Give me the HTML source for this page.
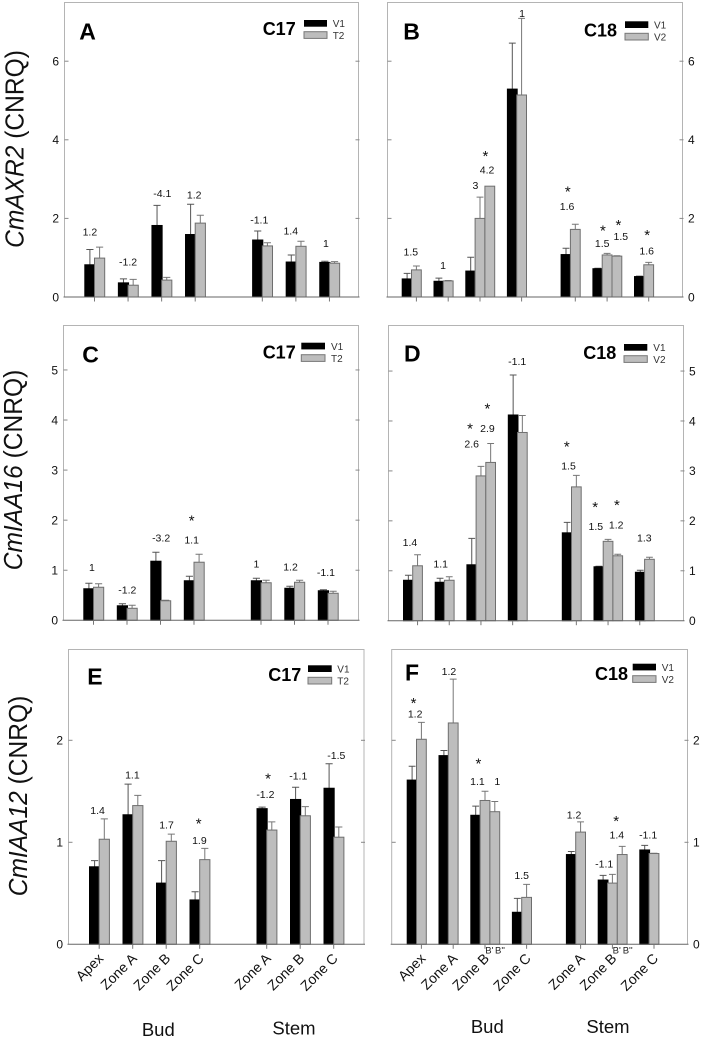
<!DOCTYPE html>
<html>
<head>
<meta charset="utf-8">
<title>Auxin gene expression bar charts</title>
<style>
html,body{margin:0;padding:0;background:#fff;}
svg{display:block;font-family:"Liberation Sans",Arial,sans-serif;}
</style>
</head>
<body>
<svg id="figure" width="702" height="1039" viewBox="0 0 702 1039" xmlns="http://www.w3.org/2000/svg">
<rect width="702" height="1039" fill="#fff"/>

<text transform="translate(23.5,149) rotate(-90) scale(0.945,1)" text-anchor="middle" font-size="26" fill="#111"><tspan font-style="italic">CmAXR2</tspan> (CNRQ)</text>
<text transform="translate(22,470) rotate(-90) scale(0.945,1)" text-anchor="middle" font-size="26" fill="#111"><tspan font-style="italic">CmIAA16</tspan> (CNRQ)</text>
<text transform="translate(27,796) rotate(-90) scale(0.945,1)" text-anchor="middle" font-size="26" fill="#111"><tspan font-style="italic">CmIAA12</tspan> (CNRQ)</text>

<g id="panels"></g>

<g font-weight="bold" fill="#000">
<text x="79.3" y="39.3" font-size="23">A</text>
<text x="403.3" y="39.3" font-size="23">B</text>
<text x="82.3" y="362.7" font-size="23">C</text>
<text x="404" y="361.7" font-size="23">D</text>
<text x="87.3" y="684.3" font-size="23">E</text>
<text x="405" y="680.7" font-size="23">F</text>
</g>

<g>
<text x="262.7" y="35" font-size="18" font-weight="bold">C17</text>
<rect x="304" y="20" width="23" height="6.7" fill="#000"/>
<rect x="304" y="31.7" width="23" height="6.7" fill="#bdbdbd" stroke="#777"/>
<text x="332.7" y="27" font-size="10" fill="#333">V1</text>
<text x="332.7" y="39" font-size="10" fill="#333">T2</text>
</g>
<g>
<text x="584" y="36.7" font-size="18" font-weight="bold">C18</text>
<rect x="625" y="21.3" width="23.3" height="6.7" fill="#000"/>
<rect x="625" y="33.3" width="23.3" height="6.7" fill="#bdbdbd" stroke="#777"/>
<text x="654" y="28.4" font-size="10" fill="#333">V1</text>
<text x="654" y="40.4" font-size="10" fill="#333">V2</text>
</g>
<g>
<text x="262.7" y="358.3" font-size="18" font-weight="bold">C17</text>
<rect x="301.3" y="342.7" width="23.7" height="6.7" fill="#000"/>
<rect x="301.3" y="354.7" width="23.7" height="6.7" fill="#bdbdbd" stroke="#777"/>
<text x="331" y="350" font-size="10" fill="#333">V1</text>
<text x="331" y="362" font-size="10" fill="#333">T2</text>
</g>
<g>
<text x="583.3" y="359" font-size="18" font-weight="bold">C18</text>
<rect x="624" y="344" width="23.3" height="6.7" fill="#000"/>
<rect x="624" y="355.7" width="23.3" height="6.7" fill="#bdbdbd" stroke="#777"/>
<text x="653.3" y="351" font-size="10" fill="#333">V1</text>
<text x="653.3" y="363" font-size="10" fill="#333">V2</text>
</g>
<g>
<text x="268.3" y="681" font-size="18" font-weight="bold">C17</text>
<rect x="308" y="665.3" width="23.7" height="6.7" fill="#000"/>
<rect x="308" y="677.3" width="23.7" height="6.7" fill="#bdbdbd" stroke="#777"/>
<text x="337.3" y="672.5" font-size="10" fill="#333">V1</text>
<text x="337.3" y="684.5" font-size="10" fill="#333">T2</text>
</g>
<g>
<text x="595" y="680" font-size="18" font-weight="bold">C18</text>
<rect x="632.7" y="663.7" width="23.3" height="6.7" fill="#000"/>
<rect x="632.7" y="675.7" width="23.3" height="6.7" fill="#bdbdbd" stroke="#777"/>
<text x="661.7" y="671" font-size="10" fill="#333">V1</text>
<text x="661.7" y="683" font-size="10" fill="#333">V2</text>
</g>

<g font-size="9.5" fill="#222" text-anchor="middle">
<text x="489.3" y="953.5">B'</text>
<text x="500" y="953.5">B''</text>
<text x="616.7" y="953.5">B'</text>
<text x="627.7" y="953.5">B''</text>
</g>

<g font-size="18.5" fill="#111" text-anchor="middle">
<text x="158.3" y="1036">Bud</text>
<text x="294" y="1034.5">Stem</text>
<text x="487.3" y="1033">Bud</text>
<text x="608" y="1033">Stem</text>
</g>
</svg>

<script>
// Shared categories: index 0-3 belong to Bud, 4-6 belong to Stem
const categories = ['Apex', 'Zone A', 'Zone B', 'Zone C', 'Zone A', 'Zone B', 'Zone C'];

// Panel A, CmAXR2, C17
const aTicks = [0, 2, 4, 6];
const aV1 = [0.82, 0.36, 1.82, 1.59, 1.45, 0.89, 0.88];
const aV1Err = [0.39, 0.10, 0.51, 0.77, 0.23, 0.18, 0.03];
const aV2 = [0.99, 0.30, 0.43, 1.88, 1.30, 1.29, 0.86];
const aV2Err = [0.28, 0.15, 0.07, 0.20, 0.08, 0.13, 0.04];
const aFold = ['1.2', '-1.2', '-4.1', '1.2', '-1.1', '1.4', '1'];
const aFoldCat = [0, 1, 2, 3, 4, 5, 6];
const aFoldLevel = [1.655, 0.89, 2.64, 2.60, 1.96, 1.68, 1.36];
const aFoldShift = [-0.45, 0, 0.06, -0.1, -0.3, -0.5, -0.35];
const aStarCat = [];
const aStarLevel = [];
const aStarShift = [];

// Panel B, CmAXR2, C18
const bTicks = [0, 2, 4, 6];
const bV1 = [0.46, 0.40, 0.66, 5.29, 1.08, 0.72, 0.52];
const bV1Err = [0.14, 0.08, 0.35, 1.17, 0.16, 0.01, 0.01];
const bV2 = [0.69, 0.41, 2.00, 5.14, 1.72, 1.07, 0.82];
const bV2Err = [0.10, 0.01, 0.54, 1.95, 0.13, 0.04, 0.06];
const bV3 = [null, null, 2.82, null, null, 1.04, null];
const bV3Err = [null, null, 0, null, null, 0.01, null];
const bFold = ['1.5', '1', '3', '4.2', '1', '1.6', '1.5', '1.5', '1.6'];
const bFoldCat = [0, 1, 2, 2, 3, 4, 5, 5, 6];
const bFoldLevel = [1.146, 0.806, 2.835, 3.24, 7.22, 2.31, 1.367, 1.545, 1.17];
const bFoldShift = [-0.07, -0.03, 0.03, 1.22, 0.54, -0.34, 0, 1.9, 0.3];
const bStarCat = [2, 4, 5, 5, 6];
const bStarLevel = [3.68, 2.77, 1.78, 1.927, 1.664];
const bStarShift = [1.05, -0.27, 0.07, 1.66, 0.34];

// Panel C, CmIAA16, C17
const cTicks = [0, 1, 2, 3, 4, 5];
const cV1 = [0.63, 0.29, 1.18, 0.79, 0.79, 0.64, 0.59];
const cV1Err = [0.11, 0.04, 0.18, 0.09, 0.05, 0.04, 0.02];
const cV2 = [0.66, 0.24, 0.39, 1.16, 0.75, 0.76, 0.54];
const cV2Err = [0.07, 0.06, 0.01, 0.16, 0.05, 0.04, 0.04];
const cFold = ['1', '-1.2', '-3.2', '1.1', '1', '1.2', '-1.1'];
const cFoldCat = [0, 1, 2, 3, 4, 5, 6];
const cFoldLevel = [1.06, 0.606, 1.645, 1.61, 1.125, 1.065, 0.96];
const cFoldShift = [-0.16, 0.03, 0.06, -0.23, -0.45, -0.39, -0.2];
const cStarCat = [3];
const cStarLevel = [2.07];
const cStarShift = [-0.23];

// Panel D, CmIAA16, C18
const dTicks = [0, 1, 2, 3, 4, 5];
const dV1 = [0.81, 0.77, 1.12, 4.12, 1.76, 1.08, 0.97];
const dV1Err = [0.10, 0.08, 0.53, 0.80, 0.21, 0.01, 0.04];
const dV2 = [1.10, 0.81, 2.90, 3.77, 2.68, 1.59, 1.23];
const dV2Err = [0.22, 0.07, 0.19, 0.34, 0.23, 0.04, 0.04];
const dV3 = [null, null, 3.17, null, null, 1.30, null];
const dV3Err = [null, null, 0.38, null, null, 0.03, null];
const dFold = ['1.4', '1.1', '2.6', '2.9', '-1.1', '1.5', '1.5', '1.2', '1.3'];
const dFoldCat = [0, 1, 2, 2, 3, 4, 5, 5, 6];
const dFoldLevel = [1.57, 1.14, 3.545, 3.85, 5.19, 3.10, 1.89, 1.916, 1.656];
const dFoldShift = [-0.28, -0.38, -0.45, 1.17, -0.03, -0.31, -0.76, 1.34, -0.03];
const dStarCat = [2, 2, 4, 5, 5];
const dStarLevel = [3.92, 4.32, 3.565, 2.35, 2.39];
const dStarShift = [-0.62, 1.17, -0.48, -0.83, 1.41];

// Panel E, CmIAA12, C17
const eTicks = [0, 1, 2];
const eV1 = [0.76, 1.27, 0.60, 0.435, 1.33, 1.42, 1.53];
const eV1Err = [0.06, 0.30, 0.22, 0.08, 0.015, 0.12, 0.24];
const eV2 = [1.03, 1.36, 1.01, 0.83, 1.12, 1.26, 1.05];
const eV2Err = [0.20, 0.10, 0.07, 0.11, 0.08, 0.09, 0.10];
const eFold = ['1.4', '1.1', '1.7', '1.9', '-1.2', '-1.1', '-1.5'];
const eFoldCat = [0, 1, 2, 3, 4, 5, 6];
const eFoldLevel = [1.314, 1.663, 1.17, 1.02, 1.47, 1.65, 1.85];
const eFoldShift = [-0.16, -0.03, 0.03, -0.03, -0.13, -0.19, 0.26];
const eStarCat = [3, 4];
const eStarLevel = [1.22, 1.663];
const eStarShift = [-0.1, 0.13];

// Panel F, CmIAA12, C18
const fTicks = [0, 1, 2];
const fV1 = [1.61, 1.85, 1.265, 0.314, 0.88, 0.63, 0.925];
const fV1Err = [0.135, 0.05, 0.09, 0.136, 0.03, 0.046, 0.045];
const fV2 = [2.01, 2.17, 1.41, 0.46, 1.10, 0.60, 0.89];
const fV2Err = [0.166, 0.43, 0.09, 0.128, 0.10, 0.085, 0.003];
const fV3 = [null, null, 1.30, null, null, 0.88, null];
const fV3Err = [null, null, 0.10, null, null, 0.08, null];
const fFold = ['1.2', '1.2', '1.1', '1', '1.5', '1.2', '-1.1', '1.4', '-1.1'];
const fFoldCat = [0, 1, 2, 2, 3, 4, 5, 5, 6];
const fFoldLevel = [2.26, 2.676, 1.595, 1.595, 0.676, 1.268, 0.79, 1.072, 1.072];
const fFoldShift = [-0.14, 0.07, -0.27, 1.76, 0, -0.17, -0.34, 0.95, -0.1];
const fStarCat = [0, 2, 5];
const fStarLevel = [2.40, 1.807, 1.245];
const fStarShift = [-0.3, -0.17, 0.88];

const SVGNS = 'http://www.w3.org/2000/svg';
const root = document.getElementById('panels');

function make(tag, attrs, parent) {
  const el = document.createElementNS(SVGNS, tag);
  for (const k in attrs) el.setAttribute(k, attrs[k]);
  parent.appendChild(el);
  return el;
}

function drawPanel(p) {
  const g = make('g', {}, root);
  
  

  // Axis functions
  const yScale = function (v) { return p.y0 - v * p.unit; };
  const groupLeft = function (i) {
    let x = p.first;
    for (let k = 1; k <= i; k++) {
      x += (k === 4) ? p.gap : p.step;
      if (p.v3 && p.v3[k - 1] !== null) x += p.barW;
    }
    return x;
  };
  const boundary = function (i) { return groupLeft(i) + p.barW; };
  const tickX = function (i) {
    if (p.tickOnV1 && p.tickOnV1.indexOf(i) >= 0) return boundary(i) - p.barW / 2;
    return boundary(i) + p.tickOffset;
  };

  // Frame
  const frame = make('path', {
    d: 'M' + p.left + ' ' + p.y0 + 'V' + p.top + 'H' + p.right + 'V' + p.y0,
    fill: 'none', stroke: '#b4b4b4', 'stroke-width': 1
  }, g);
  
  

  // Y ticks and labels
  p.ticks.forEach(function (t) {
    const y = yScale(t);
    if (t !== 0) {
      const tl = make('line', { x1: p.left, x2: p.left + 4, y1: y, y2: y, stroke: '#888', 'stroke-width': 1 }, g);
      
      
      const tr = make('line', { x1: p.right - 3, x2: p.right + 1, y1: y, y2: y, stroke: '#888', 'stroke-width': 1 }, g);
      
      
    }
    const lx = p.side === 'left' ? p.left - 5.5 : p.right + 5.5;
    const lab = make('text', {
      x: lx, y: y + 4.3, 'font-size': 12, fill: '#111',
      'text-anchor': p.side === 'left' ? 'end' : 'start'
    }, g);
    lab.textContent = String(t);
    
    
  });

  // Bars and whiskers
  const drawBar = function (x, value, err, fill, stroke, name) {
    const top = yScale(value);
    const cx = x + p.barW / 2;
    const cap = p.barW * 0.7;
    if (err > 0) {
      const et = yScale(value + err);
      const whisker = make('path', {
        d: 'M' + cx + ' ' + top + 'V' + et + 'M' + (cx - cap / 2) + ' ' + et + 'H' + (cx + cap / 2),
        fill: 'none', stroke: fill === '#000' ? '#555' : '#777', 'stroke-width': 1
      }, g);
      
      
    }
    const r = make('rect', {
      x: x, y: top, width: p.barW, height: p.y0 - top,
      fill: fill, stroke: stroke, 'stroke-width': 1
    }, g);
    
    
  };

  categories.forEach(function (cat, i) {
    const x = groupLeft(i);
    drawBar(x + 0.5, p.v1[i], p.v1Err[i], '#000', '#000', 'bar-v1');
    drawBar(x + p.barW, p.v2[i], p.v2Err[i], '#bdbdbd', '#6e6e6e', 'bar-v2');
    if (p.v3 && p.v3[i] !== null) {
      drawBar(x + 2 * p.barW, p.v3[i], p.v3Err[i], '#bdbdbd', '#6e6e6e', 'bar-v2-extra');
    }
  });

  // X axis and ticks
  const axis = make('line', { x1: p.left - 1, x2: p.right + 1, y1: p.y0, y2: p.y0, stroke: '#666', 'stroke-width': 1 }, g);
  
  
  categories.forEach(function (cat, i) {
    const tx = tickX(i);
    const tick = make('line', { x1: tx, x2: tx, y1: p.y0, y2: p.y0 + 4.5, stroke: '#777', 'stroke-width': 1 }, g);
    
    
    if (p.showCategories) {
      const ax = tx + 5, ay = p.y0 + 15;
      const label = make('text', {
        x: 0, y: 0, 'font-size': 14, fill: '#111', 'text-anchor': 'end',
        transform: 'translate(' + ax + ',' + ay + ') rotate(-45)'
      }, g);
      label.textContent = cat;
      
      
    }
  });

  // Fold-change labels
  p.fold.forEach(function (txt, i) {
    const c = p.foldCat[i];
    const t = make('text', {
      x: boundary(c) + p.foldShift[i] * p.barW,
      y: yScale(p.foldLevel[i]) + 3.6,
      'font-size': 10.5, fill: '#111', 'text-anchor': 'middle'
    }, g);
    t.textContent = txt;
    
    
  });

  // Significance stars
  p.starCat.forEach(function (c, i) {
    const s = make('text', {
      x: boundary(c) + p.starShift[i] * p.barW,
      y: yScale(p.starLevel[i]) + 8.6,
      'font-size': 15, fill: '#111', 'text-anchor': 'middle'
    }, g);
    s.textContent = '*';
    
    
  });
}

drawPanel({ id: 'a', side: 'left', left: 64.5, right: 358.5, top: 2.5, y0: 297, unit: 39.3, first: 84.3, step: 33.57, gap: 67.1, barW: 10.2, tickOffset: 0,
  ticks: aTicks, v1: aV1, v1Err: aV1Err, v2: aV2, v2Err: aV2Err, fold: aFold, foldCat: aFoldCat, foldLevel: aFoldLevel, foldShift: aFoldShift, starCat: aStarCat, starLevel: aStarLevel, starShift: aStarShift });
drawPanel({ id: 'b', side: 'right', left: 387.5, right: 682.5, top: 2.5, y0: 297, unit: 39.3, first: 401.7, step: 31.8, gap: 53.7, barW: 9.8, tickOffset: 4.9,
  ticks: bTicks, v1: bV1, v1Err: bV1Err, v2: bV2, v2Err: bV2Err, v3: bV3, v3Err: bV3Err, fold: bFold, foldCat: bFoldCat, foldLevel: bFoldLevel, foldShift: bFoldShift, starCat: bStarCat, starLevel: bStarLevel, starShift: bStarShift });
drawPanel({ id: 'c', side: 'left', left: 63.5, right: 358.5, top: 325.5, y0: 620.3, unit: 50.07, first: 83.3, step: 33.5, gap: 67, barW: 10.2, tickOffset: 0,
  ticks: cTicks, v1: cV1, v1Err: cV1Err, v2: cV2, v2Err: cV2Err, fold: cFold, foldCat: cFoldCat, foldLevel: cFoldLevel, foldShift: cFoldShift, starCat: cStarCat, starLevel: cStarLevel, starShift: cStarShift });
drawPanel({ id: 'd', side: 'right', left: 388.5, right: 683.5, top: 325.5, y0: 620.7, unit: 49.93, first: 403, step: 31.7, gap: 54, barW: 9.7, tickOffset: 4.85, tickOnV1: [3, 6],
  ticks: dTicks, v1: dV1, v1Err: dV1Err, v2: dV2, v2Err: dV2Err, v3: dV3, v3Err: dV3Err, fold: dFold, foldCat: dFoldCat, foldLevel: dFoldLevel, foldShift: dFoldShift, starCat: dStarCat, starLevel: dStarLevel, starShift: dStarShift });
drawPanel({ id: 'e', side: 'left', left: 68.5, right: 364, top: 649.5, y0: 944.3, unit: 102, first: 89, step: 33.5, gap: 67, barW: 10.2, tickOffset: 0, showCategories: true,
  ticks: eTicks, v1: eV1, v1Err: eV1Err, v2: eV2, v2Err: eV2Err, fold: eFold, foldCat: eFoldCat, foldLevel: eFoldLevel, foldShift: eFoldShift, starCat: eStarCat, starLevel: eStarLevel, starShift: eStarShift });
drawPanel({ id: 'f', side: 'right', left: 391.7, right: 687.5, top: 649.5, y0: 944.3, unit: 102, first: 406.7, step: 31.8, gap: 54, barW: 9.8, tickOffset: 4.9, showCategories: true,
  ticks: fTicks, v1: fV1, v1Err: fV1Err, v2: fV2, v2Err: fV2Err, v3: fV3, v3Err: fV3Err, fold: fFold, foldCat: fFoldCat, foldLevel: fFoldLevel, foldShift: fFoldShift, starCat: fStarCat, starLevel: fStarLevel, starShift: fStarShift });
</script>
</body>
</html>
